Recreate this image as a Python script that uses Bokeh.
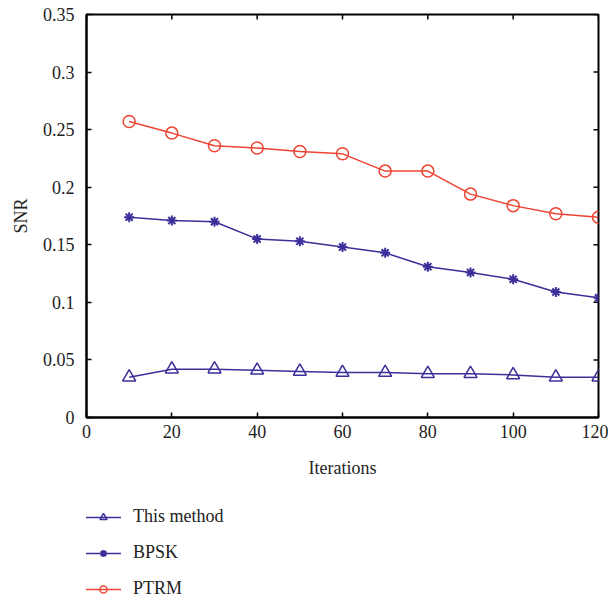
import math
from bokeh.plotting import figure
from bokeh.layouts import column
from bokeh.models import Range1d, FixedTicker, Legend, LegendItem
from bokeh.embed import file_html
from bokeh.resources import INLINE

iterations = [10, 20, 30, 40, 50, 60, 70, 80, 90, 100, 110, 120]
this_method = [0.035, 0.042, 0.042, 0.041, 0.040, 0.039, 0.039, 0.038, 0.038, 0.037, 0.035, 0.035]
bpsk = [0.174, 0.171, 0.170, 0.155, 0.153, 0.148, 0.143, 0.131, 0.126, 0.120, 0.109, 0.104]
ptrm = [0.257, 0.247, 0.236, 0.234, 0.231, 0.229, 0.214, 0.214, 0.194, 0.184, 0.177, 0.174]
series_names = ["This method", "BPSK", "PTRM"]

x_ticks = [0, 20, 40, 60, 80, 100, 120]
y_ticks = [0, 0.05, 0.1, 0.15, 0.2, 0.25, 0.3, 0.35]
y_tick_labels = ["0", "0.05", "0.1", "0.15", "0.2", "0.25", "0.3", "0.35"]

FONT = "Liberation Serif"
RED = "#ee4433"
BLUE = "#3b2f9a"
TXT = "#222222"

X0, X1 = 0, 120
Y0, Y1 = 0, 0.35

p = figure(width=608, height=490, output_backend="svg", toolbar_location=None,
           x_range=Range1d(X0, X1), y_range=Range1d(Y0, Y1),
           min_border_left=86, min_border_right=10, min_border_top=14,
           min_border_bottom=73)
p.grid.visible = False
p.outline_line_color = "black"
p.outline_line_width = 2
p.background_fill_color = "white"
p.border_fill_color = "white"


def style_axis(ax):
    ax.axis_line_color = "black"
    ax.axis_line_width = 2
    ax.major_tick_in = 5
    ax.major_tick_out = 0
    ax.minor_tick_in = 0
    ax.minor_tick_out = 0
    ax.major_tick_line_width = 1.5
    ax.major_label_text_font = FONT
    ax.major_label_text_font_size = "18px"
    ax.major_label_text_color = TXT
    ax.axis_label_text_font = FONT
    ax.axis_label_text_font_size = "18px"
    ax.axis_label_text_font_style = "normal"
    ax.axis_label_text_color = TXT


xa = p.xaxis[0]
xa.ticker = FixedTicker(ticks=x_ticks)
xa.axis_label = "Iterations"
style_axis(xa)
xa.major_label_standoff = 7
xa.axis_label_standoff = 17

ya = p.yaxis[0]
ya.ticker = FixedTicker(ticks=y_ticks)
ya.major_label_overrides = {t: l for t, l in zip(y_ticks, y_tick_labels)}
ya.axis_label = "SNR"
style_axis(ya)
ya.major_label_standoff = 12
ya.axis_label_standoff = 9

# mirrored inward ticks on top and right edges
p.ray(x=x_ticks, y=[Y1] * len(x_ticks), length=5, length_units="screen",
      angle=-math.pi / 2, line_color="black", line_width=1.5)
p.ray(x=[X1] * len(y_ticks), y=y_ticks, length=5, length_units="screen",
      angle=math.pi, line_color="black", line_width=1.5)


def draw(fig, xs, ys):
    r = []
    r.append(fig.line(xs, ys[0], line_color=BLUE, line_width=1.5))
    r.append(fig.scatter(xs, ys[0], marker="triangle", size=13, fill_color=None,
                         line_color=BLUE, line_width=1.5))
    r.append(fig.line(xs, ys[1], line_color=BLUE, line_width=1.5))
    r.append(fig.scatter(xs, ys[1], marker="asterisk", size=10, line_color=BLUE,
                         line_width=2))
    r.append(fig.line(xs, ys[2], line_color=RED, line_width=1.5))
    r.append(fig.scatter(xs, ys[2], marker="circle", size=12, fill_color=None,
                         line_color=RED, line_width=1.5))
    return r


draw(p, iterations, [this_method, bpsk, ptrm])

# legend panel below the chart (its ranges keep the data out of view)
lg = figure(width=608, height=111, output_backend="svg", toolbar_location=None,
            x_axis_location=None, y_axis_location=None,
            x_range=Range1d(-2, -1), y_range=Range1d(-2, -1),
            min_border=0)
lg.grid.visible = False
lg.outline_line_color = None
lg.border_fill_color = "white"
lg.background_fill_color = "white"
rs = draw(lg, iterations, [this_method, bpsk, ptrm])

legend = Legend(items=[
    LegendItem(label=series_names[0], renderers=[rs[0], rs[1]]),
    LegendItem(label=series_names[1], renderers=[rs[2], rs[3]]),
    LegendItem(label=series_names[2], renderers=[rs[4], rs[5]]),
], orientation="vertical", location=(-1, 2))
legend.label_text_font = FONT
legend.label_text_font_size = "18px"
legend.label_text_color = TXT
legend.glyph_width = 36
legend.glyph_height = 18
legend.label_height = 18
legend.label_standoff = 12
legend.spacing = 15
legend.padding = 0
legend.margin = 0
legend.border_line_color = None
legend.background_fill_alpha = 0
lg.add_layout(legend, "center")

layout = column(p, lg, spacing=0)
open("out.html", "w").write(file_html(layout, INLINE))
